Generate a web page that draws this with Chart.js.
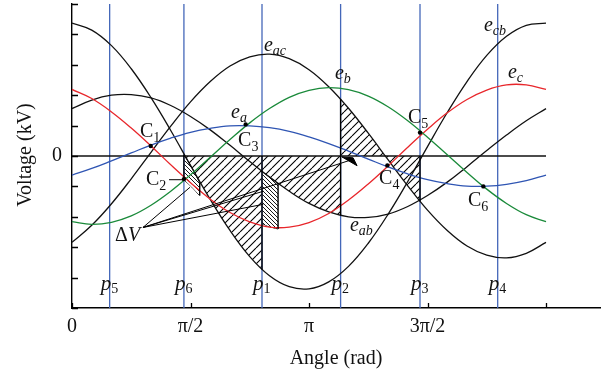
<!DOCTYPE html>
<html>
<head>
<meta charset="utf-8">
<script src="https://cdn.jsdelivr.net/npm/chart.js@4.4.1/dist/chart.umd.min.js"></script>
<style>
  html, body { margin: 0; padding: 0; background: #fff; }
  #wrap { width: 608px; height: 377px; }
</style>
</head>
<body>
<div id="wrap"><canvas id="volts" width="608" height="377"></canvas></div>
<script>
// angle axis in degrees (ticks relabelled as multiples of pi)
const angles = [0, 15, 30, 45, 60, 75, 90, 105, 120, 135, 150, 165, 180,
                195, 210, 225, 240, 255, 270, 285, 300, 315, 330, 345, 360];

// phase voltages
const eA = [-0.63, -0.41, -0.16, 0.10, 0.36, 0.59, 0.78, 0.91, 0.99, 0.99, 0.93, 0.81, 0.63,
            0.41, 0.16, -0.10, -0.36, -0.59, -0.78, -0.91, -0.99, -0.99, -0.93, -0.81, -0.63];
const eB = [-2.16, -2.25, -2.18, -1.97, -1.62, -1.16, -0.62, -0.04, 0.54, 1.09, 1.56, 1.93, 2.16,
            2.25, 2.18, 1.97, 1.62, 1.16, 0.62, 0.04, -0.54, -1.09, -1.56, -1.93, -2.16];
const eC = [2.19, 1.89, 1.45, 0.92, 0.33, -0.29, -0.88, -1.42, -1.86, -2.17, -2.34, -2.34, -2.19,
            -1.89, -1.45, -0.92, -0.33, 0.29, 0.88, 1.42, 1.86, 2.17, 2.34, 2.34, 2.19];

// line voltages
const eAB = [1.56, 1.84, 2.00, 2.02, 1.91, 1.66, 1.30, 0.86, 0.35, -0.18, -0.69, -1.16, -1.56,
             -1.84, -2.00, -2.02, -1.91, -1.66, -1.30, -0.86, -0.35, 0.18, 0.69, 1.16, 1.56];
const eAC = [-2.84, -2.28, -1.57, -0.75, 0.12, 0.98, 1.78, 2.45, 2.96, 3.26, 3.35, 3.20, 2.84,
             2.28, 1.57, 0.75, -0.12, -0.98, -1.78, -2.45, -2.96, -3.26, -3.35, -3.20, -2.84];
const eCB = [4.37, 4.14, 3.63, 2.87, 1.92, 0.84, -0.31, -1.43, -2.45, -3.31, -3.94, -4.30, -4.37,
             -4.14, -3.63, -2.87, -1.92, -0.84, 0.31, 1.43, 2.45, 3.31, 3.94, 4.30, 4.37];

// switching instants p5, p6, p1 ... p4
const pAngles = [28.6, 85, 144.3, 204, 264.3, 323.3];
const pNames = ['5', '6', '1', '2', '3', '4'];

// crossing points C1..C6
const cAngles = [59.8, 85, 131.9, 239.5, 264.3, 312.4];
const cValues = [0.33, -0.76, 1.04, -0.31, 0.77, -1.0];

// hatched voltage-time areas
const r1Angles = [85, 90, 105, 120, 135, 144.3];
const r1Values = [0.04, -0.31, -1.43, -2.45, -3.31, -3.73];
const r2Angles = [144.3, 150, 165, 180, 195, 204];
const r2Values = [-0.51, -0.69, -1.16, -1.56, -1.84, -1.95];
const r3Angles = [204, 210, 225, 240, 255, 264.3];
const r3Values = [1.87, 1.57, 0.75, -0.12, -0.98, -1.49];

// Delta V strips
const s1Angles = [85, 91, 97];
const s1Top = [0.04, -0.38, -0.88];
const s1Bottom = [-0.78, -1.02, -1.30];
const s2Angles = [144.3, 150.4, 156.5];
const s2Top = [-0.51, -0.71, -0.91];
const s2Bottom = [-2.22, -2.33, -2.40];

// [angle, from, to] black edges of the areas
const edges = [[85, 0.04, -0.78], [97, -0.88, -1.30], [144.3, 0, -3.73],
               [156.5, -0.91, -2.40], [204, 1.87, -1.95], [264.3, 0, -1.49]];

// Delta V leaders: [angle0, v0, angle1, v1]
const leaders = [[53.9, -2.35, 89.6, -1.03], [53.9, -2.35, 145.3, -1.16],
                 [53.9, -2.35, 145.3, -1.59], [53.9, -2.35, 212.6, -0.12],
                 [73.7, -0.78, 86.6, -0.78]];
const arrowTopA = [205, 213.5, 216.5];
const arrowTopV = [-0.03, -0.06, -0.32];
const arrowBotA = [205, 216.5];
const arrowBotV = [-0.03, -0.32];

const xTicks = [0, 90, 180, 270, 360];
const xTickText = ['0', '\u03c0/2', '\u03c0', '3\u03c0/2', ''];

const pts = (xs, ys) => xs.map((x, i) => ({x: x, y: ys[i]}));

const canvas = document.getElementById('volts');
const ctx0 = canvas.getContext('2d');

function hatch(size, dir, bg, lw) {
  const c = document.createElement('canvas');
  c.width = size; c.height = size;
  const g = c.getContext('2d');
  if (bg) { g.fillStyle = bg; g.fillRect(0, 0, size, size); }
  g.strokeStyle = '#000';
  g.lineWidth = lw;
  g.beginPath();
  for (let k = -1; k <= 1; k++) {
    if (dir > 0) { g.moveTo(k * size, size); g.lineTo(k * size + size, 0); }
    else { g.moveTo(k * size, 0); g.lineTo(k * size + size, size); }
  }
  g.stroke();
  return ctx0.createPattern(c, 'repeat');
}
const sparse = hatch(8, 1, null, 1.1);
const dense = hatch(4, -1, '#fff', 0.9);

function curve(ys, color) {
  return {data: pts(angles, ys), borderColor: color, borderWidth: 1.3, tension: 0.4,
          pointRadius: 0, fill: false, order: 5};
}
function area(xs, ys) {
  return {data: pts(xs, ys), borderWidth: 0, borderColor: 'rgba(0,0,0,0)', tension: 0.4,
          pointRadius: 0, fill: 'origin', backgroundColor: sparse, order: 20};
}
function seg(x0, y0, x1, y1, color, w, order) {
  return {data: [{x: x0, y: y0}, {x: x1, y: y1}], borderColor: color, borderWidth: w,
          tension: 0, pointRadius: 0, fill: false, order: order};
}

const datasets = [];
datasets.push(area(r1Angles, r1Values), area(r2Angles, r2Values), area(r3Angles, r3Values));

// strips: top line fills down to the next dataset
[[s1Angles, s1Top, s1Bottom], [s2Angles, s2Top, s2Bottom]].forEach(s => {
  datasets.push({data: pts(s[0], s[1]), borderColor: '#000', borderWidth: 1, tension: 0.3,
                 pointRadius: 0, fill: '+1', backgroundColor: dense, order: 15});
  datasets.push({data: pts(s[0], s[2]), borderColor: '#000', borderWidth: 1, tension: 0.3,
                 pointRadius: 0, fill: false, order: 15});
});

pAngles.forEach(a => datasets.push(seg(a, -5, a, 5, '#4467b9', 1.3, 12)));
datasets.push(seg(0, 0, 360, 0, '#111', 1.4, 6));

datasets.push(curve(eA, '#2f55b3'), curve(eB, '#1a8a3a'), curve(eC, '#e8262b'),
              curve(eAB, '#111'), curve(eAC, '#111'), curve(eCB, '#111'));

edges.forEach(e => datasets.push(seg(e[0], e[1], e[0], e[2], '#000', 1.4, 2)));
leaders.forEach(l => datasets.push(seg(l[0], l[1], l[2], l[3], '#000', 1, 2)));

datasets.push({data: pts(arrowTopA, arrowTopV), borderColor: '#000', borderWidth: 1, tension: 0,
               pointRadius: 0, fill: '+1', backgroundColor: '#000', order: 1});
datasets.push({data: pts(arrowBotA, arrowBotV), borderColor: '#000', borderWidth: 1, tension: 0,
               pointRadius: 0, fill: false, order: 1});

datasets.push({data: pts(cAngles, cValues), showLine: false, pointRadius: 2.2,
               pointBackgroundColor: '#000', pointBorderWidth: 0, order: 0});

// annotation texts, anchored in data units
const curveLabels = [
  {t: 'e', s: 'ac', a: 145.8, v: 3.44}, {t: 'e', s: 'cb', a: 312.9, v: 4.12},
  {t: 'e', s: 'c', a: 331.1, v: 2.56}, {t: 'e', s: 'b', a: 199.7, v: 2.53},
  {t: 'e', s: 'a', a: 120.8, v: 1.26}, {t: 'e', s: 'ab', a: 211.1, v: -2.47}
];
const pointLabels = [
  {s: '1', a: 51.6, v: 0.61}, {s: '2', a: 56.2, v: -0.94}, {s: '3', a: 126.1, v: 0.34},
  {s: '4', a: 233.2, v: -0.91}, {s: '5', a: 255.2, v: 1.08}, {s: '6', a: 300.7, v: -1.66}
];

const SERIF = "'Liberation Serif', 'DejaVu Serif', serif";

function subText(ctx, main, mainFont, sub, subFont, x, y, dy) {
  ctx.font = mainFont;
  ctx.fillText(main, x, y);
  const w = ctx.measureText(main).width;
  ctx.font = subFont;
  ctx.fillText(sub, x + w, y + dy);
}

const innerTicks = {
  id: 'innerTicks',
  afterDraw(chart) {
    const {ctx, scales: {x, y}, chartArea: ca} = chart;
    ctx.save();
    ctx.strokeStyle = '#000';
    ctx.lineWidth = 1.3;
    ctx.beginPath();
    xTicks.forEach(t => {
      const px = Math.round(x.getPixelForValue(t)) + 0.5;
      ctx.moveTo(px, ca.bottom); ctx.lineTo(px, ca.bottom - 5);
    });
    for (let v = -5; v <= 5; v++) {
      const py = Math.round(y.getPixelForValue(v)) + 0.5;
      ctx.moveTo(ca.left, py); ctx.lineTo(ca.left + 6, py);
    }
    ctx.stroke();
    ctx.restore();
  }
};

const textLayer = {
  id: 'textLayer',
  afterDraw(chart) {
    const {ctx, scales: {x, y}, chartArea: ca} = chart;
    ctx.save();
    ctx.fillStyle = '#111';
    ctx.textBaseline = 'alphabetic';
    ctx.textAlign = 'left';

    curveLabels.forEach(l => subText(ctx, l.t, 'italic 20px ' + SERIF, l.s, 'italic 14px ' + SERIF,
      x.getPixelForValue(l.a), y.getPixelForValue(l.v), 4));
    pointLabels.forEach(l => subText(ctx, 'C', '20px ' + SERIF, l.s, '14px ' + SERIF,
      x.getPixelForValue(l.a), y.getPixelForValue(l.v), 5));
    pAngles.forEach((a, i) => subText(ctx, 'p', 'italic 21px ' + SERIF, pNames[i], '14px ' + SERIF,
      x.getPixelForValue(a) - 9, y.getPixelForValue(-4.42), 3));

    // Delta V
    const dx = x.getPixelForValue(32.7), dy = y.getPixelForValue(-2.8);
    ctx.font = '20px ' + SERIF;
    ctx.fillText('\u0394', dx, dy);
    const dw = ctx.measureText('\u0394').width;
    ctx.font = 'italic 20px ' + SERIF;
    ctx.fillText('V', dx + dw, dy);

    // axis tick labels
    ctx.font = '20px ' + SERIF;
    ctx.textAlign = 'center';
    xTicks.forEach((t, i) => {
      if (!xTickText[i]) return;
      ctx.fillText(xTickText[i], x.getPixelForValue(t), ca.bottom + 24);
    });
    ctx.textAlign = 'right';
    ctx.textBaseline = 'middle';
    ctx.fillText('0', ca.left - 10, y.getPixelForValue(0));

    // axis titles
    ctx.textAlign = 'center';
    ctx.textBaseline = 'alphabetic';
    ctx.fillText('Angle (rad)', (ca.left + ca.right) / 2, ca.bottom + 56);
    ctx.translate(31, y.getPixelForValue(0) - 1);
    ctx.rotate(-Math.PI / 2);
    ctx.fillText('Voltage (kV)', 0, 0);
    ctx.restore();
  }
};

new Chart(canvas, {
  type: 'line',
  data: {datasets: datasets},
  options: {
    responsive: false,
    animation: false,
    devicePixelRatio: 1,
    layout: {padding: {left: 72, top: 0, right: 8, bottom: 69}},
    plugins: {legend: {display: false}, tooltip: {enabled: false}},
    scales: {
      x: {type: 'linear', min: 0, max: 401,
          ticks: {display: false}, grid: {display: false, drawTicks: false},
          border: {display: true, color: '#000', width: 1.4}},
      y: {type: 'linear', min: -5, max: 5,
          ticks: {display: false}, grid: {display: false, drawTicks: false},
          border: {display: true, color: '#000', width: 1.4}}
    }
  },
  plugins: [innerTicks, textLayer]
});
</script>
</body>
</html>
